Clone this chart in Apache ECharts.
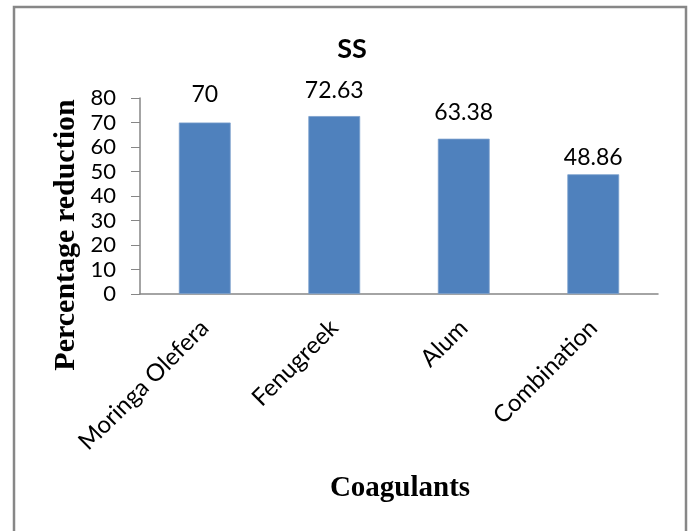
<!DOCTYPE html>
<html>
<head>
<meta charset="utf-8">
<script src="https://cdn.jsdelivr.net/npm/echarts@6/dist/echarts.min.js"></script>
<style>
  html, body { margin: 0; padding: 0; background: #fff; }
  #chart { width: 693px; height: 531px; }
</style>
</head>
<body>
<div id="chart"></div>
<script>
// Coagulant performance: percentage reduction of suspended solids
const categories = ['Moringa Olefera', 'Fenugreek', 'Alum', 'Combination'];
const reduction = [70, 72.63, 63.38, 48.86];
const yTicks = { min: 0, max: 80, interval: 10 };
// gap between each bar top and its value label
const labelGap = [16, 14, 15, 5];

const chart = echarts.init(document.getElementById('chart'), null, { renderer: 'canvas' });

const labelFont = 'Lato, "Open Sans", "Liberation Sans", sans-serif';
const serifFont = '"Liberation Serif", "DejaVu Serif", serif';

chart.setOption({
  animation: false,
  backgroundColor: '#ffffff',
  title: {
    text: 'SS',
    left: 347,
    top: 31,
    textAlign: 'center',
    textStyle: { fontFamily: labelFont, fontWeight: 'bold', fontSize: 27, color: '#000' }
  },
  graphic: [
    {
      type: 'rect',
      shape: { x: 14, y: 7, width: 672, height: 540 },
      style: { fill: 'none', stroke: '#878787', lineWidth: 2.5 },
      silent: true
    },
    {
      type: 'text',
      x: 66,
      y: 235,
      rotation: Math.PI / 2,
      style: {
        text: 'Percentage reduction',
        font: 'bold 30px ' + serifFont,
        fill: '#000',
        align: 'center',
        verticalAlign: 'middle'
      }
    },
    {
      type: 'text',
      x: 400,
      y: 489,
      style: {
        text: 'Coagulants',
        font: 'bold 29px ' + serifFont,
        fill: '#000',
        align: 'center',
        verticalAlign: 'middle'
      }
    }
  ],
  grid: { left: 140, right: 35, top: 98, bottom: 237, containLabel: false },
  xAxis: {
    type: 'category',
    data: categories,
    axisLine: { show: true, lineStyle: { color: '#868686', width: 1.5 } },
    axisTick: { show: false },
    axisLabel: {
      rotate: 45,
      interval: 0,
      margin: 30,
      fontFamily: labelFont,
      fontSize: 24,
      color: '#000'
    }
  },
  yAxis: {
    type: 'value',
    min: yTicks.min,
    max: yTicks.max,
    interval: yTicks.interval,
    axisLine: { show: true, lineStyle: { color: '#868686', width: 1.5 } },
    axisTick: { show: true, inside: false, length: 9, lineStyle: { color: '#868686' } },
    splitLine: { show: false },
    axisLabel: {
      margin: 24,
      fontFamily: labelFont,
      fontSize: 22,
      color: '#000'
    }
  },
  series: [{
    type: 'bar',
    data: reduction.map((v, i) => ({ value: v, label: { distance: labelGap[i] } })),
    barWidth: '40%',
    itemStyle: { color: '#4F81BD', borderColor: '#7BA0CD', borderWidth: 0.8 },
    label: {
      show: true,
      position: 'top',
      fontFamily: labelFont,
      fontSize: 23,
      color: '#000'
    }
  }]
});
</script>
</body>
</html>
